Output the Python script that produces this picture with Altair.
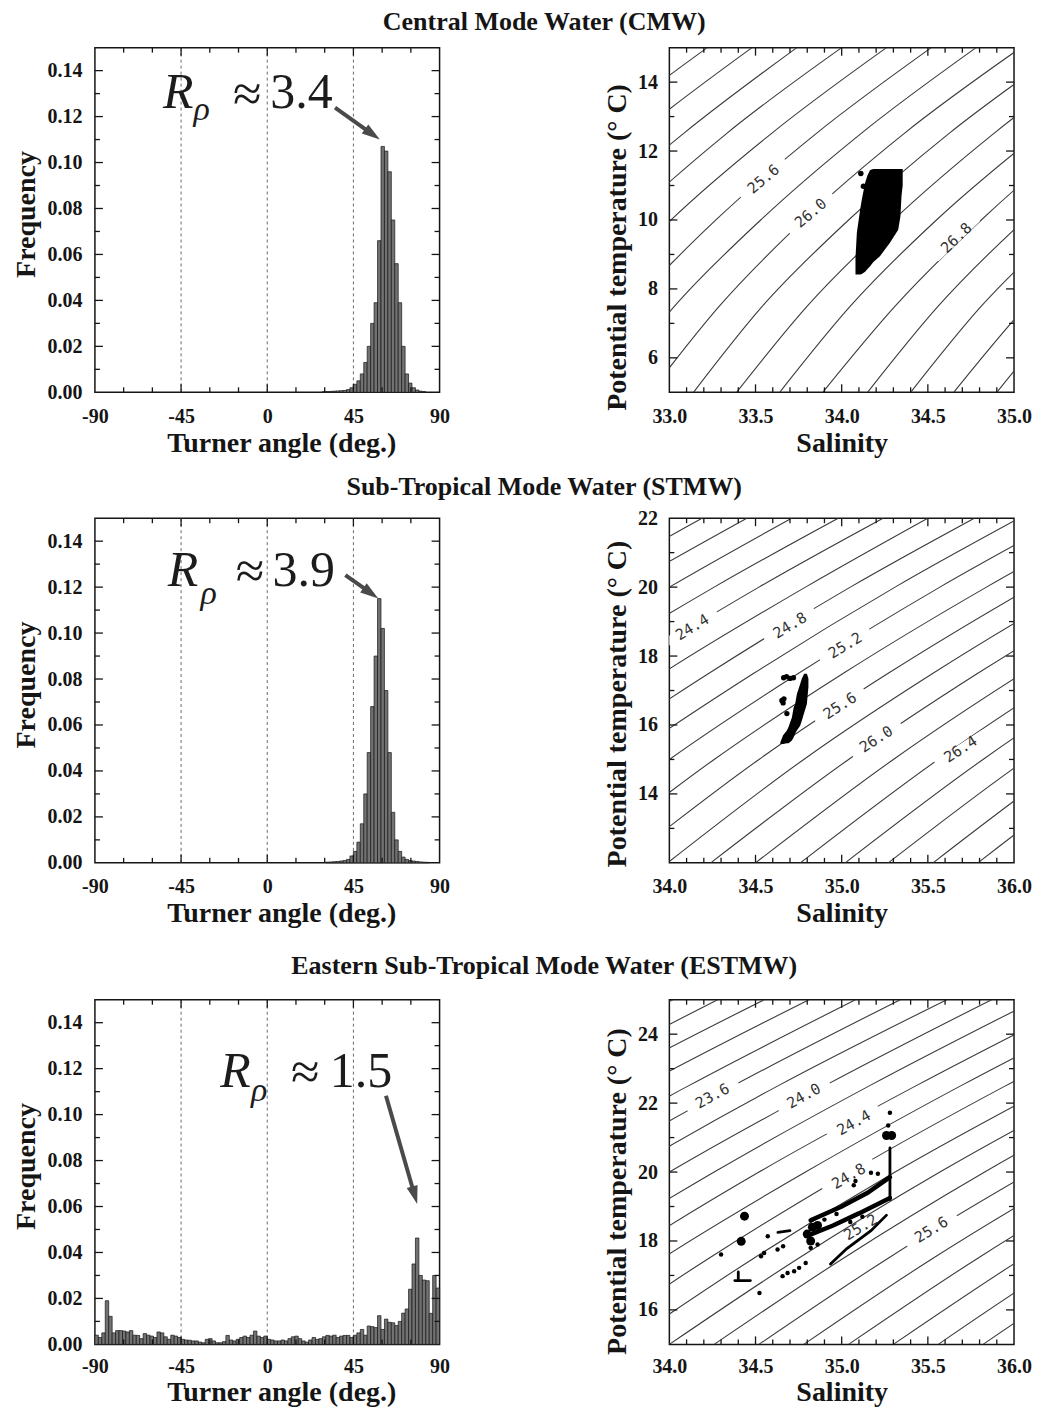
import math
import altair as alt
import pandas as pd

SERIF = "Liberation Serif"
MONO = "DejaVu Sans Mono"
INK = "#151515"
ISO = "#3c3c3c"
ARROW = "#4a4a4a"
W, H = 345, 345
MAJOR, MINOR = 8, 5

# ---------------- Turner-angle histograms (frequency per bin) ----------------
BIN_WIDTH = 1.8

cmw_bin_start = [28.8, 30.6, 32.4, 34.2, 36.0, 37.8, 39.6, 41.4, 43.2, 45.0,
                 46.8, 48.6, 50.4, 52.2, 54.0, 55.8, 57.6, 59.4, 61.2, 63.0,
                 64.8, 66.6, 68.4, 70.2, 72.0, 73.8, 75.6, 77.4, 79.2, 81.0]
cmw_freq = [0.0003, 0.0003, 0.0004, 0.0005, 0.0006, 0.0007, 0.0008, 0.0012, 0.0020, 0.0035,
            0.0050, 0.0080, 0.0130, 0.0200, 0.0300, 0.0390, 0.0660, 0.1070, 0.1050, 0.0960,
            0.0750, 0.0560, 0.0390, 0.0200, 0.0080, 0.0040, 0.0020, 0.0010, 0.0005, 0.0003]

stmw_bin_start = [30.6, 32.4, 34.2, 36.0, 37.8, 39.6, 41.4, 43.2, 45.0, 46.8,
                  48.6, 50.4, 52.2, 54.0, 55.8, 57.6, 59.4, 61.2, 63.0, 64.8,
                  66.6, 68.4, 70.2, 72.0, 73.8, 75.6, 77.4, 79.2, 81.0, 82.8]
stmw_freq = [0.0003, 0.0004, 0.0005, 0.0006, 0.0008, 0.0010, 0.0015, 0.0030, 0.0050, 0.0090,
             0.0170, 0.0300, 0.0480, 0.0680, 0.0900, 0.1150, 0.1020, 0.0750, 0.0480, 0.0220,
             0.0100, 0.0050, 0.0025, 0.0015, 0.0010, 0.0008, 0.0006, 0.0004, 0.0003, 0.0002]

estmw_bin_start = [round(-90 + BIN_WIDTH * k, 1) for k in range(100)]
estmw_freq = [0.0040, 0.0030, 0.0050, 0.0190, 0.0122, 0.0050, 0.0060, 0.0060, 0.0058, 0.0054,
              0.0060, 0.0040, 0.0039, 0.0025, 0.0047, 0.0040, 0.0036, 0.0030, 0.0054, 0.0050,
              0.0033, 0.0022, 0.0040, 0.0036, 0.0030, 0.0022, 0.0019, 0.0018, 0.0015, 0.0015,
              0.0010, 0.0007, 0.0022, 0.0025, 0.0015, 0.0007, 0.0007, 0.0012, 0.0039, 0.0019,
              0.0015, 0.0022, 0.0030, 0.0036, 0.0030, 0.0040, 0.0058, 0.0036, 0.0030, 0.0036,
              0.0022, 0.0019, 0.0015, 0.0015, 0.0019, 0.0015, 0.0025, 0.0033, 0.0036, 0.0025,
              0.0015, 0.0010, 0.0019, 0.0030, 0.0022, 0.0025, 0.0033, 0.0039, 0.0036, 0.0040,
              0.0030, 0.0036, 0.0039, 0.0039, 0.0030, 0.0040, 0.0050, 0.0065, 0.0040, 0.0080,
              0.0077, 0.0073, 0.0125, 0.0065, 0.0110, 0.0096, 0.0094, 0.0082, 0.0100, 0.0136,
              0.0154, 0.0240, 0.0350, 0.0463, 0.0300, 0.0280, 0.0277, 0.0135, 0.0300, 0.0245]

TURNER_DOMAIN = [-90, 90]
FREQ_DOMAIN = [0, 0.15]
turner_labels = [-90, -45, 0, 45, 90]
turner_major = [-45, 0, 45]
turner_minor = [-75, -60, -30, -15, 15, 30, 60, 75]
turner_guides = [-45, 0, 45]
freq_labels = [0.0, 0.02, 0.04, 0.06, 0.08, 0.10, 0.12, 0.14]
freq_major = [0.02, 0.04, 0.06, 0.08, 0.10, 0.12, 0.14]
freq_minor = [0.01, 0.03, 0.05, 0.07, 0.09, 0.11, 0.13]

# R_rho annotations: positions of R, rho, approx sign, value; arrow start -> tip
cmw_note = {"R": (-54.5, 0.1239), "rho": (-38.5, 0.1187), "approx": (-10.4, 0.1296),
            "value": (1.6, 0.1239), "text": "3.4", "arrow": (35.4, 0.1239, 58.8, 0.1100)}
stmw_note = {"R": (-52.0, 0.1204), "rho": (-34.8, 0.1126), "approx": (-9.0, 0.1265),
             "value": (2.8, 0.1204), "text": "3.9", "arrow": (40.8, 0.1252, 58.0, 0.1151)}
estmw_note = {"R": (-24.5, 0.1121), "rho": (-8.5, 0.1060), "approx": (19.9, 0.1182),
              "value": (32.7, 0.1121), "text": "1.5", "arrow": (62.0, 0.1082, 78.3, 0.0611)}

# ---------------- T-S diagrams ----------------
cmw_iso_T = [5.0, 7.5, 10.0, 12.5, 15.0]
cmw_iso_levels = [24.6, 24.8, 25.0, 25.2, 25.4, 25.6, 25.8, 26.0, 26.2, 26.4, 26.6, 26.8, 27.0, 27.2, 27.4, 27.6]
cmw_iso_S = [
    [31.12, 31.51, 31.99, 32.56, 33.22],
    [31.37, 31.76, 32.25, 32.82, 33.48],
    [31.62, 32.02, 32.50, 33.08, 33.74],
    [31.88, 32.27, 32.76, 33.33, 34.00],
    [32.13, 32.53, 33.01, 33.59, 34.26],
    [32.38, 32.78, 33.27, 33.85, 34.52],
    [32.63, 33.03, 33.53, 34.11, 34.78],
    [32.89, 33.29, 33.78, 34.36, 35.04],
    [33.14, 33.54, 34.04, 34.62, 35.30],
    [33.39, 33.80, 34.30, 34.88, 35.55],
    [33.64, 34.05, 34.55, 35.14, 35.81],
    [33.89, 34.31, 34.81, 35.39, 36.07],
    [34.15, 34.56, 35.06, 35.65, 36.33],
    [34.40, 34.81, 35.32, 35.91, 36.59],
    [34.65, 35.07, 35.58, 36.17, 36.85],
    [34.90, 35.32, 35.83, 36.42, 37.11],
]
cmw_iso_labels = [("25.6", 33.546, 11.19, 40), ("26.0", 33.82, 10.20, 40), ("26.8", 34.665, 9.48, 44)]

stmw_iso_T = [12.0, 15.0, 17.5, 20.0, 22.0]
stmw_iso_levels = [23.6, 23.8, 24.0, 24.2, 24.4, 24.6, 24.8, 25.0, 25.2, 25.4,
                   25.6, 25.8, 26.0, 26.2, 26.4, 26.6, 26.8, 27.0, 27.2]
stmw_iso_S = [
    [31.15, 31.92, 32.66, 33.48, 34.19],
    [31.41, 32.18, 32.92, 33.74, 34.45],
    [31.67, 32.44, 33.18, 34.00, 34.71],
    [31.93, 32.70, 33.44, 34.26, 34.98],
    [32.18, 32.96, 33.70, 34.52, 35.24],
    [32.44, 33.22, 33.96, 34.79, 35.50],
    [32.70, 33.48, 34.23, 35.05, 35.77],
    [32.96, 33.74, 34.49, 35.31, 36.03],
    [33.21, 34.00, 34.75, 35.57, 36.29],
    [33.47, 34.26, 35.01, 35.84, 36.56],
    [33.73, 34.52, 35.27, 36.10, 36.82],
    [33.99, 34.78, 35.53, 36.36, 37.08],
    [34.24, 35.04, 35.79, 36.62, 37.34],
    [34.50, 35.30, 36.05, 36.88, 37.61],
    [34.76, 35.56, 36.31, 37.15, 37.87],
    [35.02, 35.82, 36.57, 37.41, 38.13],
    [35.27, 36.07, 36.83, 37.67, 38.40],
    [35.53, 36.33, 37.09, 37.93, 38.66],
    [35.79, 36.59, 37.35, 38.19, 38.92],
]
stmw_iso_labels = [("24.4", 34.133, 18.84, 31), ("24.8", 34.70, 18.89, 31), ("25.2", 35.02, 18.31, 31),
                   ("25.6", 34.99, 16.56, 33), ("26.0", 35.20, 15.59, 33), ("26.4", 35.69, 15.30, 33)]

estmw_iso_T = [15.0, 17.5, 20.0, 22.5, 25.0]
estmw_iso_levels = [22.6, 22.8, 23.0, 23.2, 23.4, 23.6, 23.8, 24.0, 24.2, 24.4, 24.6,
                    24.8, 25.0, 25.2, 25.4, 25.6, 25.8, 26.0, 26.2, 26.4, 26.6]
estmw_iso_S = [
    [30.63, 31.36, 32.17, 33.05, 34.02],
    [30.89, 31.62, 32.43, 33.32, 34.28],
    [31.15, 31.88, 32.69, 33.58, 34.55],
    [31.41, 32.14, 32.95, 33.84, 34.81],
    [31.67, 32.40, 33.21, 34.11, 35.08],
    [31.92, 32.66, 33.48, 34.37, 35.34],
    [32.18, 32.92, 33.74, 34.63, 35.61],
    [32.44, 33.18, 34.00, 34.90, 35.87],
    [32.70, 33.44, 34.26, 35.16, 36.13],
    [32.96, 33.70, 34.52, 35.43, 36.40],
    [33.22, 33.96, 34.79, 35.69, 36.66],
    [33.48, 34.23, 35.05, 35.95, 36.93],
    [33.74, 34.49, 35.31, 36.22, 37.19],
    [34.00, 34.75, 35.57, 36.48, 37.46],
    [34.26, 35.01, 35.83, 36.74, 37.72],
    [34.52, 35.27, 36.10, 37.01, 37.99],
    [34.78, 35.53, 36.36, 37.27, 38.25],
    [35.04, 35.79, 36.62, 37.53, 38.52],
    [35.30, 36.05, 36.88, 37.80, 38.78],
    [35.56, 36.31, 37.15, 38.06, 39.04],
    [35.82, 36.57, 37.41, 38.32, 39.31],
]
estmw_iso_labels = [("23.6", 34.25, 22.21, 29), ("24.0", 34.78, 22.21, 29), ("24.4", 35.07, 21.43, 29),
                    ("24.8", 35.04, 19.88, 30), ("25.2", 35.11, 18.40, 31), ("25.6", 35.52, 18.33, 31)]

# observed water-mass points
cmw_blob_S = [34.080, 34.088, 34.107, 34.117, 34.136, 34.150, 34.165, 34.184, 34.222, 34.280, 34.328, 34.341, 34.347, 34.354]
cmw_blob_Tlo = [8.42, 8.42, 8.42, 8.43, 8.50, 8.58, 8.66, 8.78, 8.95, 9.34, 9.72, 10.11, 10.69, 11.00]
cmw_blob_Thi = [8.90, 9.63, 10.30, 10.60, 11.08, 11.30, 11.45, 11.48, 11.48, 11.48, 11.48, 11.48, 11.48, 11.48]
cmw_dot_S = [34.111, 34.126]
cmw_dot_T = [11.35, 10.98]

stmw_blob_S = [34.644, 34.660, 34.682, 34.692, 34.711, 34.721, 34.730, 34.740, 34.759, 34.769, 34.782, 34.798, 34.807]
stmw_blob_Tlo = [15.45, 15.45, 15.47, 15.47, 15.55, 15.64, 15.75, 15.84, 15.98, 16.13, 16.35, 16.61, 17.10]
stmw_blob_Thi = [15.50, 15.70, 15.84, 15.95, 16.22, 16.50, 16.61, 16.90, 17.19, 17.35, 17.49, 17.49, 17.35]
stmw_dot_S = [34.663, 34.680, 34.700, 34.720, 34.653, 34.665, 34.660, 34.682]
stmw_dot_T = [17.37, 17.40, 17.35, 17.37, 16.71, 16.76, 16.64, 16.33]

estmw_thick_id = ["main"] * 4 + ["upper"] * 4
estmw_thick_S = [34.80, 34.95, 35.10, 35.28, 34.82, 35.00, 35.15, 35.28]
estmw_thick_T = [18.15, 18.45, 18.80, 19.25, 18.60, 19.00, 19.40, 19.85]
estmw_thin_id = ["lower"] * 4 + ["vert"] * 2 + ["foot"] * 2 + ["stem"] * 2 + ["left"] * 2 + ["bar"] * 2
estmw_thin_S = [34.935, 35.03, 35.17, 35.26, 35.28, 35.28, 34.38, 34.47, 34.40, 34.40, 34.63, 34.70, 34.42, 34.45]
estmw_thin_T = [17.33, 17.78, 18.30, 18.75, 19.20, 20.70, 16.85, 16.85, 16.85, 17.10, 18.25, 18.30, 18.72, 18.75]
estmw_chunk_S = [34.80, 34.83, 34.82, 34.86, 34.436, 34.417, 35.26, 35.29]
estmw_chunk_T = [18.20, 18.40, 18.00, 18.45, 18.72, 17.99, 21.06, 21.06]
estmw_dot_S = [35.28, 35.27, 35.07, 35.08, 35.17, 35.21, 34.30, 34.523, 34.532, 34.55, 34.571,
               34.628, 34.66, 34.657, 34.686, 34.724, 34.753, 34.791, 34.82, 34.86, 34.90, 34.97, 35.05, 35.12]
estmw_dot_T = [21.72, 21.35, 19.62, 19.74, 19.98, 19.95, 17.61, 16.49, 17.56, 17.65, 18.14,
               17.75, 17.85, 16.98, 17.07, 17.12, 17.22, 17.36, 17.80, 17.90, 18.62, 18.78, 18.55, 18.70]

HEAD = "M0,0L0.65,2.1L-0.65,2.1Z"


def tick_layers(X, Y, x_major, x_minor, y_major, y_minor):
    out = []
    for vals, n in ((x_major, MAJOR), (x_minor, MINOR)):
        d = pd.DataFrame({"v": vals})
        for a, b in ((H, H - n), (0, n)):
            out.append(alt.Chart(d).mark_rule(color=INK, strokeWidth=1.3).encode(
                x=X("v:Q"), y=alt.value(a), y2=alt.value(b)))
    for vals, n in ((y_major, MAJOR), (y_minor, MINOR)):
        d = pd.DataFrame({"v": vals})
        for a, b in ((0, n), (W, W - n)):
            out.append(alt.Chart(d).mark_rule(color=INK, strokeWidth=1.3).encode(
                y=Y("v:Q"), x=alt.value(a), x2=alt.value(b)))
    return out


def one(x, y):
    return alt.Chart(pd.DataFrame({"x": [x], "y": [y]}))


def hist_panel(bin_start, freq, note, label_pad=14, title_pad=3):
    xs = alt.Scale(domain=TURNER_DOMAIN, nice=False, zero=False)
    ys = alt.Scale(domain=FREQ_DOMAIN, nice=False, zero=False)
    xa = alt.Axis(title="Turner angle (deg.)", values=turner_labels, labelExpr="toString(datum.value)",
                  labelPadding=label_pad, titlePadding=title_pad, labelFlush=False, titleX=W / 2 + 14)
    ya = alt.Axis(title="Frequency", values=freq_labels, format=".2f", labelPadding=13,
                  titlePadding=6, titleY=H / 2 - 6)

    def X(f):
        return alt.X(f, scale=xs, axis=xa)

    def Y(f):
        return alt.Y(f, scale=ys, axis=ya)

    df = pd.DataFrame({"start": bin_start, "freq": freq})
    df["end"] = df["start"] + BIN_WIDTH
    df["base"] = 0.0
    guides = alt.Chart(pd.DataFrame({"g": turner_guides})).mark_rule(
        color="#6a6a6a", strokeDash=[3, 3], strokeWidth=1).encode(x=X("g:Q"))
    bars = alt.Chart(df).mark_rect(fill="#727272", stroke=INK, strokeWidth=0.7).encode(
        x=X("start:Q"), x2="end:Q", y=Y("freq:Q"), y2="base:Q")
    e = dict(x=X("x:Q"), y=Y("y:Q"))
    rx, ry = note["R"]
    hx, hy = note["rho"]
    ax, ay = note["approx"]
    vx, vy = note["value"]
    texts = [
        one(rx, ry).mark_text(text="R", font=SERIF, fontStyle="italic", fontSize=50,
                              align="left", baseline="alphabetic", color="#1c1c1c").encode(**e),
        one(hx, hy).mark_text(text="ρ", font=SERIF, fontStyle="italic", fontSize=34,
                              align="left", baseline="alphabetic", color="#1c1c1c").encode(**e),
        one(ax, ay).mark_text(text="≈", font=SERIF, fontSize=52,
                              align="center", baseline="middle", color="#1c1c1c").encode(**e),
        one(vx, vy).mark_text(text=note["text"], font=SERIF, fontSize=50,
                              align="left", baseline="alphabetic", color="#1c1c1c").encode(**e),
    ]
    x0, y0, x1, y1 = note["arrow"]
    kx = W / (TURNER_DOMAIN[1] - TURNER_DOMAIN[0])
    ky = H / (FREQ_DOMAIN[1] - FREQ_DOMAIN[0])
    dxp, dyp = (x1 - x0) * kx, -(y1 - y0) * ky
    length = math.hypot(dxp, dyp)
    ang = math.degrees(math.atan2(dxp, -dyp)) % 360
    f = (length - 12) / length
    shaft = alt.Chart(pd.DataFrame({"x": [x0], "y": [y0], "x2": [x0 + (x1 - x0) * f], "y2": [y0 + (y1 - y0) * f]})
                      ).mark_rule(color=ARROW, strokeWidth=4).encode(x2="x2:Q", y2="y2:Q", **e)
    head = one(x1, y1).mark_point(shape=HEAD, filled=True, size=300, angle=ang, color=ARROW,
                                  opacity=1, strokeWidth=0).encode(**e)
    ticks = tick_layers(X, Y, turner_major, turner_minor, freq_major, freq_minor)
    return alt.layer(guides, bars, *texts, shaft, head, *ticks).properties(width=W, height=H)


def ts_panel(xdom, ydom, y_labels, iso_T, iso_levels, iso_S, iso_labels, data_fn, title_y,
             label_pad=14, title_pad=3):
    xs = alt.Scale(domain=xdom, nice=False, zero=False)
    ys = alt.Scale(domain=ydom, nice=False, zero=False)
    x_labels = [xdom[0] + 0.5 * i for i in range(5)]
    xa = alt.Axis(title="Salinity", values=x_labels, format=".1f",
                  labelPadding=label_pad, titlePadding=title_pad, labelFlush=False)
    ya = alt.Axis(title="Potential temperature  (° C)", values=y_labels, format="d",
                  labelPadding=12, titlePadding=6, titleY=title_y)

    def X(f):
        return alt.X(f, scale=xs, axis=xa)

    def Y(f):
        return alt.Y(f, scale=ys, axis=ya)

    rows = []
    for lev, svals in zip(iso_levels, iso_S):
        for t, s in zip(iso_T, svals):
            rows.append({"level": lev, "S": s, "T": t})
    iso = alt.Chart(pd.DataFrame(rows)).mark_line(clip=True, color=ISO, strokeWidth=1.1,
                                                  interpolate="monotone").encode(
        x=X("S:Q"), y=Y("T:Q"), detail="level:N", order="T:Q")
    kx = W / (xdom[1] - xdom[0])
    ky = H / (ydom[1] - ydom[0])
    e = dict(x=X("x:Q"), y=Y("y:Q"))
    gaps, labels = [], []
    for text, s, t, slope in iso_labels:
        th = math.radians(slope)
        ds, dt = 29 * math.cos(th) / kx, 29 * math.sin(th) / ky
        gaps.append(alt.Chart(pd.DataFrame({"x": [s - ds], "y": [t - dt], "x2": [s + ds], "y2": [t + dt]}))
                    .mark_rule(color="white", strokeWidth=9, clip=True).encode(x2="x2:Q", y2="y2:Q", **e))
        labels.append(one(s, t).mark_text(text=text, font=MONO, fontSize=15, color="#333333",
                                          angle=(360 - slope) % 360, align="center",
                                          baseline="middle").encode(**e))
    data_layers = data_fn(X, Y)
    x_major = [xdom[0] + 0.5 * i for i in (1, 2, 3)]
    x_minor = [round(xdom[0] + 0.1 * i, 1) for i in range(1, 20) if i % 5 != 0]
    y_major = [v for v in y_labels if ydom[0] < v < ydom[1]]
    y_minor = [v for v in range(int(ydom[0]) + 1, int(ydom[1])) if v not in y_labels]
    ticks = tick_layers(X, Y, x_major, x_minor, y_major, y_minor)
    return alt.layer(iso, *gaps, *labels, *data_layers, *ticks).properties(width=W, height=H)


def blob_layers(S, lo, hi, dS, dT, dot_size):
    def fn(X, Y):
        area = alt.Chart(pd.DataFrame({"S": S, "lo": lo, "hi": hi})).mark_area(
            color="black", clip=True, interpolate="linear").encode(x=X("S:Q"), y=Y("lo:Q"), y2="hi:Q")
        dots = alt.Chart(pd.DataFrame({"S": dS, "T": dT})).mark_circle(
            color="black", size=dot_size, opacity=1, clip=True).encode(x=X("S:Q"), y=Y("T:Q"))
        return [area, dots]
    return fn


def estmw_layers(X, Y):
    ex = dict(x=X("S:Q"), y=Y("T:Q"))
    thick = alt.Chart(pd.DataFrame({"id": estmw_thick_id, "S": estmw_thick_S, "T": estmw_thick_T})).mark_line(
        color="black", strokeWidth=4.5, strokeCap="round", clip=True).encode(detail="id:N", order="S:Q", **ex)
    thin = alt.Chart(pd.DataFrame({"id": estmw_thin_id, "S": estmw_thin_S, "T": estmw_thin_T})).mark_line(
        color="black", strokeWidth=2.8, strokeCap="round", clip=True).encode(detail="id:N", order="T:Q", **ex)
    chunks = alt.Chart(pd.DataFrame({"S": estmw_chunk_S, "T": estmw_chunk_T})).mark_circle(
        color="black", size=80, opacity=1, clip=True).encode(**ex)
    dots = alt.Chart(pd.DataFrame({"S": estmw_dot_S, "T": estmw_dot_T})).mark_circle(
        color="black", size=20, opacity=1, clip=True).encode(**ex)
    return [thick, thin, chunks, dots]


left1 = hist_panel(cmw_bin_start, cmw_freq, cmw_note)
left2 = hist_panel(stmw_bin_start, stmw_freq, stmw_note)
left3 = hist_panel(estmw_bin_start, estmw_freq, estmw_note, label_pad=12, title_pad=2)

right1 = ts_panel([33.0, 35.0], [5, 15], [6, 8, 10, 12, 14], cmw_iso_T, cmw_iso_levels, cmw_iso_S,
                  cmw_iso_labels, blob_layers(cmw_blob_S, cmw_blob_Tlo, cmw_blob_Thi, cmw_dot_S, cmw_dot_T, 30),
                  H / 2 + 27)
right2 = ts_panel([34.0, 36.0], [12, 22], [14, 16, 18, 20, 22], stmw_iso_T, stmw_iso_levels, stmw_iso_S,
                  stmw_iso_labels, blob_layers(stmw_blob_S, stmw_blob_Tlo, stmw_blob_Thi, stmw_dot_S, stmw_dot_T, 28),
                  H / 2 + 13)
right3 = ts_panel([34.0, 36.0], [15, 25], [16, 18, 20, 22, 24], estmw_iso_T, estmw_iso_levels, estmw_iso_S,
                  estmw_iso_labels, estmw_layers, H / 2 + 19, label_pad=12, title_pad=2)


def row(title, left, right, offset):
    return alt.hconcat(left, right, spacing=230, bounds="flush",
                       title=alt.Title(title, offset=offset, dx=22))


row1 = row("Central Mode Water (CMW)", left1, right1, 11)
row2 = row("Sub-Tropical Mode Water (STMW)", left2, right2, 7)
row3 = row("Eastern Sub-Tropical Mode Water (ESTMW)", left3, right3, 19)

chart = alt.vconcat(alt.vconcat(row1, row2, spacing=16), row3, spacing=24).properties(
    padding={"left": 4, "top": 0, "right": 0, "bottom": 0})

chart = chart.configure_view(stroke=INK, strokeWidth=1.5).configure_axis(
    grid=False, domain=False, ticks=False, tickSize=0,
    labelFont=SERIF, labelFontWeight="bold", labelFontSize=20, labelColor=INK,
    titleFont=SERIF, titleFontWeight="bold", titleFontSize=28, titleColor=INK,
).configure_title(font=SERIF, fontWeight="bold", fontSize=26, color=INK, anchor="middle")

chart.save("out.html", embed_options={"renderer": "svg", "actions": False})
